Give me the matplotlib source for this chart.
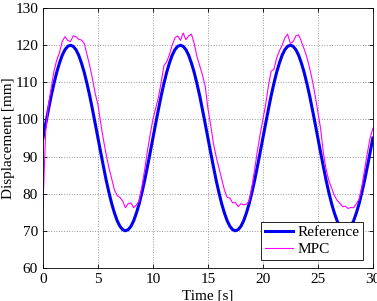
import matplotlib as mpl
mpl.use('Agg')
import numpy as np
import matplotlib.pyplot as plt

plt.rcParams['font.family'] = 'Liberation Serif'
plt.rcParams['mathtext.fontset'] = 'stix'

# time axis, 0.25 s steps
t = np.arange(121) * 0.25

# reference trajectory [mm]
reference = [
    95, 98.9, 102.7, 106.4, 109.7, 112.7, 115.2, 117.3, 118.8, 119.7,
    120, 119.7, 118.8, 117.3, 115.2, 112.7, 109.7, 106.4, 102.7, 98.9,
    95, 91.1, 87.3, 83.6, 80.3, 77.3, 74.8, 72.7, 71.2, 70.3,
    70, 70.3, 71.2, 72.7, 74.8, 77.3, 80.3, 83.6, 87.3, 91.1,
    95, 98.9, 102.7, 106.4, 109.7, 112.7, 115.2, 117.3, 118.8, 119.7,
    120, 119.7, 118.8, 117.3, 115.2, 112.7, 109.7, 106.4, 102.7, 98.9,
    95, 91.1, 87.3, 83.6, 80.3, 77.3, 74.8, 72.7, 71.2, 70.3,
    70, 70.3, 71.2, 72.7, 74.8, 77.3, 80.3, 83.6, 87.3, 91.1,
    95, 98.9, 102.7, 106.4, 109.7, 112.7, 115.2, 117.3, 118.8, 119.7,
    120, 119.7, 118.8, 117.3, 115.2, 112.7, 109.7, 106.4, 102.7, 98.9,
    95, 91.1, 87.3, 83.6, 80.3, 77.3, 74.8, 72.7, 71.2, 70.3,
    70, 70.3, 71.2, 72.7, 74.8, 77.3, 80.3, 83.6, 87.3, 91.1,
    95,
]

# measured response with MPC [mm]
mpc = [
    77, 97, 104, 108.5, 113, 116, 118, 121, 122.3, 121.3,
    121, 122.5, 122.3, 121.6, 121.4, 120.5, 117.5, 114.5, 111, 107,
    104, 99, 94.5, 90.5, 87, 84, 81, 79.5, 79, 78,
    76.2, 77.3, 77.5, 76.2, 77, 78, 82, 86.5, 91.5, 96,
    100, 103, 106, 110, 114.5, 115.5, 117.5, 120, 122, 122.5,
    121.3, 123.3, 121.5, 122.5, 123, 120.5, 117, 114.5, 112, 109,
    103, 98.5, 93.5, 90, 87, 84, 81, 79, 78.8, 77.5,
    77.6, 76.5, 77.3, 77, 77.2, 78, 82, 86.5, 91.5, 96,
    100, 104, 109, 113, 113.5, 116.5, 118.5, 120, 122, 123,
    120.5, 121, 122.5, 122.8, 121, 119, 116.8, 113.8, 110.5, 106.5,
    102, 97.5, 91, 86.5, 83.5, 81.5, 79.5, 78.2, 77.4, 76.5,
    76.6, 76, 76.3, 76.2, 77.3, 78.5, 82, 86.5, 91, 95,
    97.6,
]

fig = plt.figure(figsize=(3.77, 3.01), dpi=100)
ax = fig.add_axes([0.114, 0.110, 0.875, 0.863])
ax.plot(t, reference, color=(0, 0, 0.95), lw=2.2, label='Reference')
ax.plot(t, mpc, color='#ff00ff', lw=0.8, label='MPC')
ax.set_xlim(0, 30)
ax.set_ylim(60, 130)
ax.set_xticks(range(0, 31, 5))
ax.set_yticks(range(60, 131, 10))
ax.grid(True, linestyle=':', color='#999999', lw=0.7)
ax.tick_params(direction='in', top=True, right=True, labelsize=11, length=3, width=0.6)
for s in ax.spines.values():
    s.set_linewidth(0.6)
ax.set_xlabel('Time [s]', fontsize=11, labelpad=2.5)
ax.set_ylabel('Displacement [mm]', fontsize=11, labelpad=0)
leg = ax.legend(loc='lower right', bbox_to_anchor=(0.970, 0.031), fontsize=11,
                fancybox=False, edgecolor='black', framealpha=1, borderaxespad=0,
                handlelength=1.8, handletextpad=0.3, borderpad=0.25,
                labelspacing=0.2)
leg.get_frame().set_linewidth(0.6)
fig.savefig('out.png', dpi=100)
